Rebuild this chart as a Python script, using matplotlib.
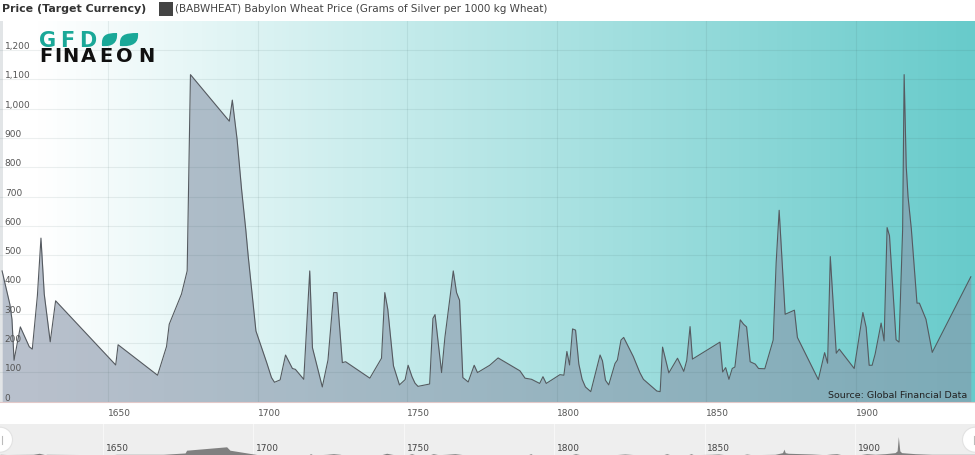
import numpy as np
import matplotlib
matplotlib.use("Agg")
import matplotlib.pyplot as plt
from matplotlib.lines import Line2D
from matplotlib.patches import PathPatch, Rectangle
from matplotlib.path import Path
from matplotlib.transforms import IdentityTransform

years = [1614.5, 1617.1, 1617.8, 1618.5, 1620.6, 1623.6, 1624.6, 1626.3, 1627.5, 1628.6,
         1630.6, 1632.4, 1652.5, 1653.3, 1666.5, 1669.5, 1670.4, 1674.5, 1676.4, 1677.5,
         1690.5, 1691.5, 1693.1, 1694.6, 1696.0, 1696.8, 1699.4, 1703.0, 1704.6, 1705.6,
         1707.5, 1709.3, 1711.6, 1712.6, 1715.4, 1717.4, 1718.3, 1721.6, 1723.5, 1725.4,
         1726.5, 1728.3, 1729.4, 1737.5, 1741.4, 1742.5, 1743.5, 1745.4, 1747.4, 1749.3,
         1750.3, 1751.6, 1752.6, 1753.6, 1757.5, 1758.6, 1759.3, 1761.5, 1762.6, 1764.3,
         1765.4, 1766.5, 1767.5, 1768.6, 1770.4, 1772.4, 1773.5, 1777.6, 1780.4, 1787.7,
         1789.4, 1791.6, 1794.3, 1795.4, 1796.5, 1801.1, 1802.4, 1803.4, 1804.3, 1805.3,
         1806.3, 1807.4, 1808.5, 1809.6, 1811.4, 1814.5, 1815.3, 1816.3, 1817.4, 1819.5,
         1820.3, 1821.5, 1822.4, 1825.6, 1827.8, 1829.0, 1833.5, 1834.6, 1835.4, 1837.5,
         1840.4, 1842.5, 1843.5, 1844.6, 1845.4, 1854.6, 1855.5, 1856.5, 1857.6, 1858.7,
         1859.6, 1861.4, 1862.5, 1863.5, 1864.7, 1866.4, 1867.5, 1869.6, 1872.4, 1873.4,
         1874.4, 1876.4, 1879.5, 1880.5, 1887.5, 1889.6, 1890.6, 1891.5, 1893.5, 1894.5,
         1899.5, 1902.4, 1903.5, 1904.5, 1905.5, 1906.5, 1908.5, 1909.5, 1910.5, 1911.3,
         1913.5, 1914.5, 1915.7, 1916.2, 1916.9, 1917.5, 1918.6, 1920.5, 1921.3, 1923.5,
         1925.6, 1938.5]
prices = [446, 332, 281, 141, 255, 187, 179, 361, 558, 367,
          204, 344, 125, 194, 90, 188, 264, 367, 446, 1116,
          957, 1029, 895, 724, 587, 498, 241, 133, 82, 66,
          74, 159, 113, 110, 76, 446, 184, 50, 142, 372,
          372, 133, 136, 80, 148, 372, 315, 122, 57, 75,
          124, 85, 63, 52, 60, 284, 297, 99, 219, 355,
          446, 372, 346, 82, 67, 124, 99, 124, 149, 105,
          80, 76, 62, 85, 62, 92, 90, 171, 125, 248,
          244, 128, 76, 50, 34, 159, 139, 73, 57, 130,
          142, 210, 219, 154, 99, 76, 36, 34, 186, 98,
          148, 103, 141, 256, 145, 203, 101, 116, 76, 113,
          118, 279, 264, 255, 136, 128, 113, 112, 210, 475,
          653, 298, 312, 219, 75, 167, 131, 495, 165, 179,
          113, 304, 253, 124, 124, 162, 268, 207, 594, 566,
          211, 203, 589, 1116, 803, 700, 590, 336, 336, 281,
          168, 426]

# the overview strip under the chart shows its own, much flatter series
nav_years = [1615.8, 1618.0, 1626.8, 1628.8, 1630.7, 1631.3, 1650.1, 1652.3, 1654.5, 1660.1,
             1670.0, 1677.3, 1677.8, 1691.1, 1692.2, 1700.0, 1702.2, 1718.3, 1719.0, 1719.9,
             1724.4, 1726.6, 1728.8, 1729.9, 1742.6, 1744.3, 1746.0, 1747.6, 1751.5, 1752.6,
             1753.7, 1758.7, 1759.8, 1761.5, 1764.2, 1767.0, 1769.8, 1791.4, 1792.2, 1792.8,
             1805.8, 1807.1, 1808.6, 1820.2, 1823.5, 1826.9, 1836.3, 1837.4, 1838.5, 1844.6,
             1845.5, 1846.3, 1852.3, 1854.6, 1856.8, 1862.3, 1864.0, 1865.6, 1873.4, 1875.0,
             1875.9, 1876.4, 1876.8, 1877.8, 1885.6, 1890.0, 1892.2, 1893.9, 1895.5, 1901.7,
             1903.9, 1906.7, 1910.0, 1913.3, 1914.0, 1914.4, 1914.9, 1915.5, 1920.0, 1925.5,
             1939.9]
nav_values = [43, 30, 43, 105, 20, 43, 20, 0, 43, 43,
              43, 124, 290, 496, 290, 62, 0, 0, 80, 0,
              43, 80, 43, 0, 20, 105, 43, 0, 20, 80,
              20, 20, 80, 20, 43, 80, 20, 20, 80, 20,
              20, 80, 20, 20, 62, 20, 20, 80, 20, 20,
              80, 20, 43, 62, 20, 0, 62, 20, 43, 105,
              143, 353, 143, 105, 62, 20, 62, 80, 20, 20,
              80, 43, 80, 143, 248, 1116, 248, 143, 80, 43,
              43]

x_ticks = [1650, 1700, 1750, 1800, 1850, 1900]
y_ticks = [0, 100, 200, 300, 400, 500, 600, 700, 800, 900, 1000, 1100, 1200]
y_labels = ["0", "100", "200", "300", "400", "500", "600", "700", "800", "900",
            "1,000", "1,100", "1,200"]

W, H = 975, 456


def px_rect(left, top, right, bottom):
    return [left / W, 1 - bottom / H, (right - left) / W, (bottom - top) / H]


fig = plt.figure(figsize=(W / 100, H / 100), dpi=100, facecolor="white")

# main plot
ax = fig.add_axes(px_rect(0, 22, 975, 402.6))
grad = np.linspace(-0.04, 1, 256).clip(0, 1)
white = np.array([1, 1, 1])
teal = np.array([104, 203, 203]) / 255
bg = white + grad[:, None] * (teal - white)
ax.imshow(bg[None, :, :], extent=[1613.8, 1939.9, 0, 1299], aspect="auto", zorder=0)

ax.fill_between(years, prices, 0, color="#8996AA", alpha=0.6, lw=0, zorder=1)
ax.plot(years, prices, color="#555a60", lw=0.8, zorder=3)
ax.add_patch(Rectangle((0, 0), 2.5 / W, 1, transform=ax.transAxes, color="#d0d4d8", alpha=0.6, lw=0, zorder=2))

ax.set_xlim(1613.8, 1939.9)
ax.set_ylim(0, 1299)
ax.set_xticks(x_ticks)
ax.set_yticks(y_ticks, y_labels)
ax.grid(True, color="#30504f", alpha=0.09, lw=0.8, zorder=2)
ax.set_axisbelow(False)
ax.tick_params(axis="x", length=0, pad=4.7, labelsize=6.5, labelcolor="#555555")
ax.tick_params(axis="y", length=0, pad=-3.4, labelsize=6.5, labelcolor="#555555")
for lab in ax.get_xticklabels():
    lab.set_ha("left")
for lab in ax.get_yticklabels():
    lab.set_ha("left")
    lab.set_va("bottom")
for side in ["top", "left", "right"]:
    ax.spines[side].set_visible(False)
ax.spines["bottom"].set_color("#e3c9c9")
ax.spines["bottom"].set_linewidth(0.8)

ax.text(0.992, 0.006, "Source: Global Financial Data", transform=ax.transAxes,
        ha="right", va="bottom", fontsize=6.8, color="#222222", zorder=5)

# navigator
nav = fig.add_axes(px_rect(0, 424.7, 975, 456))
nav.set_facecolor("#eeeeee")
nav_left = 1650 - 103 / 3.008
nav_right = 1650 + (975 - 103) / 3.008
nav.fill_between(nav_years, nav_values, 0, color="#808080", lw=0, zorder=2)
nav.set_xlim(nav_left, nav_right)
nav.set_ylim(0, 1890)
nav.set_xticks([])
nav.set_yticks([])
for side in nav.spines:
    nav.spines[side].set_visible(False)
for yr in x_ticks:
    nav.axvline(yr, color="#f7f7f7", lw=0.8, zorder=1)
    nav.annotate(str(yr), (yr, 0), xycoords=("data", "axes fraction"), xytext=(2, 2.2),
                 textcoords="offset points", fontsize=6.5, color="#444444", ha="left", va="bottom", zorder=3)

# header
fig.text(2 / W, 1 - 9.5 / H, "Price (Target Currency)", fontsize=7.9, fontweight="bold",
         color="#333333", ha="left", va="center")
fig.add_artist(Rectangle((159 / W, 1 - 16.5 / H), 13.5 / W, 13.5 / H, transform=fig.transFigure,
                         color="#444444", lw=0))
fig.text(175 / W, 1 - 9.5 / H, "(BABWHEAT) Babylon Wheat Price (Grams of Silver per 1000 kg Wheat)",
         fontsize=7.5, color="#444444", ha="left", va="center")

# logo
for ch, px in zip("GFD", [39, 60, 79]):
    fig.text(px / W, 1 - 47 / H, ch, fontsize=15, fontweight="bold", color="#1aa898",
             ha="left", va="baseline")
for ch, px in zip("FINAEON", [39, 54, 62, 81, 99, 116, 138.5]):
    fig.text(px / W, 1 - 62.3 / H, ch, fontsize=14, fontweight="bold", color="#101010",
             ha="left", va="baseline")
for x0, x1 in [(102, 117), (120, 138)]:
    verts = [(x0, 47), (x0 - 1, 36), (x0 + 4, 34), (x1, 34), (x1 + 1, 44), (x1 - 5, 48), (x0, 47)]
    codes = [Path.MOVETO, Path.CURVE4, Path.CURVE4, Path.CURVE4, Path.CURVE4, Path.CURVE4, Path.CURVE4]
    verts = [(a / W, 1 - b / H) for a, b in verts]
    fig.add_artist(PathPatch(Path(verts, codes), transform=fig.transFigure, color="#1aa898", lw=0))

# navigator handles
for cx, mark in [(0, 2), (975, 973.5)]:
    handle = plt.Circle((cx, H - 440.7), 12.5, transform=IdentityTransform(),
                        facecolor="white", edgecolor="#e2e2e2", lw=0.8, zorder=6)
    fig.add_artist(handle)
    fig.add_artist(Line2D([mark / W, mark / W], [1 - 437 / H, 1 - 445 / H], transform=fig.transFigure,
                          color="#bbbbbb", lw=0.8, zorder=7))

fig.savefig("out.png", dpi=100)
